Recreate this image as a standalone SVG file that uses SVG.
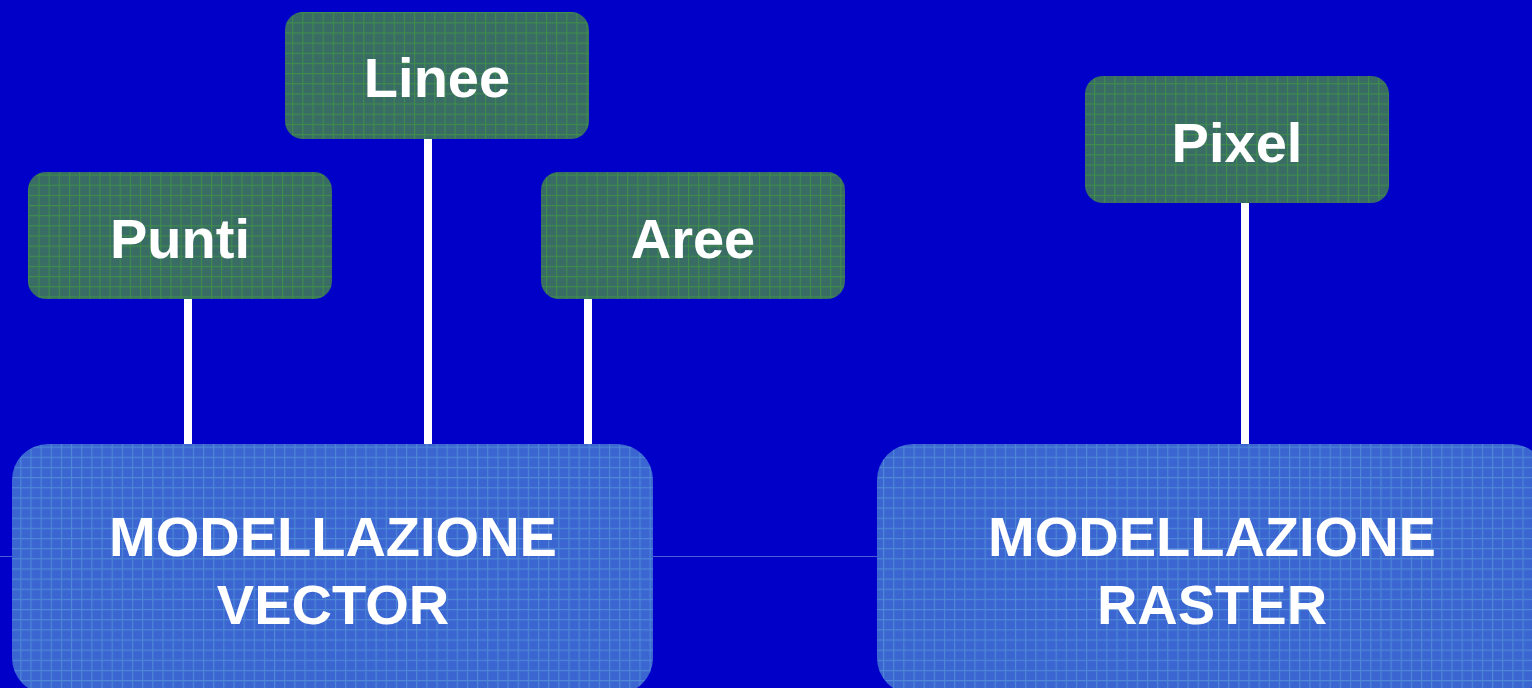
<svg xmlns="http://www.w3.org/2000/svg" width="1532" height="688" viewBox="0 0 1532 688">
<defs>
<pattern id="gg" patternUnits="userSpaceOnUse" x="8" y="2" width="10.15" height="10.15">
<rect width="10.15" height="10.15" fill="#386c65"/>
<path d="M0 0.5H10.15M0.5 0V10.15" stroke="#3f8d4c" stroke-width="1.2" fill="none"/>
</pattern>
<pattern id="bg" patternUnits="userSpaceOnUse" x="0" y="0" width="10.15" height="10.15">
<rect width="10.15" height="10.15" fill="#3b66d2"/>
<path d="M0 0.5H10.15M0.5 0V10.15" stroke="#4e88d6" stroke-width="1.2" fill="none"/>
</pattern>
</defs>
<style>
.g{fill:url(#gg)}
.b{fill:url(#bg)}
.t{font-family:"Liberation Sans",Arial,sans-serif;font-weight:bold;font-size:56px;fill:#ffffff;text-anchor:middle}
.c{stroke:#ffffff;stroke-width:8;fill:none}
</style>
<rect width="1532" height="688" fill="#0000c8"/>
<line x1="0" y1="556.5" x2="1532" y2="556.5" stroke="#6a86e0" stroke-width="1" opacity="0.7"/>
<g id="connectors">
<line class="c" x1="188" y1="299" x2="188" y2="446"/>
<line class="c" x1="428" y1="139" x2="428" y2="446"/>
<line class="c" x1="588" y1="299" x2="588" y2="446"/>
<line class="c" x1="1245" y1="203" x2="1245" y2="446"/>
</g>
<g id="vector">
<rect class="b" x="12" y="444" width="641" height="250" rx="36"/>
<text class="t" x="333" y="556">MODELLAZIONE</text>
<text class="t" x="333" y="624">VECTOR</text>
</g>
<g id="raster">
<rect class="b" x="877" y="444" width="670" height="250" rx="36"/>
<text class="t" x="1212" y="556">MODELLAZIONE</text>
<text class="t" x="1212" y="624">RASTER</text>
</g>
<g id="punti">
<rect class="g" x="28" y="172" width="304" height="127" rx="18"/>
<text class="t" x="180" y="258">Punti</text>
</g>
<g id="linee">
<rect class="g" x="285" y="12" width="304" height="127" rx="18"/>
<text class="t" x="437" y="97">Linee</text>
</g>
<g id="aree">
<rect class="g" x="541" y="172" width="304" height="127" rx="18"/>
<text class="t" x="693" y="258">Aree</text>
</g>
<g id="pixel">
<rect class="g" x="1085" y="76" width="304" height="127" rx="18"/>
<text class="t" x="1237" y="162">Pixel</text>
</g>
</svg>
